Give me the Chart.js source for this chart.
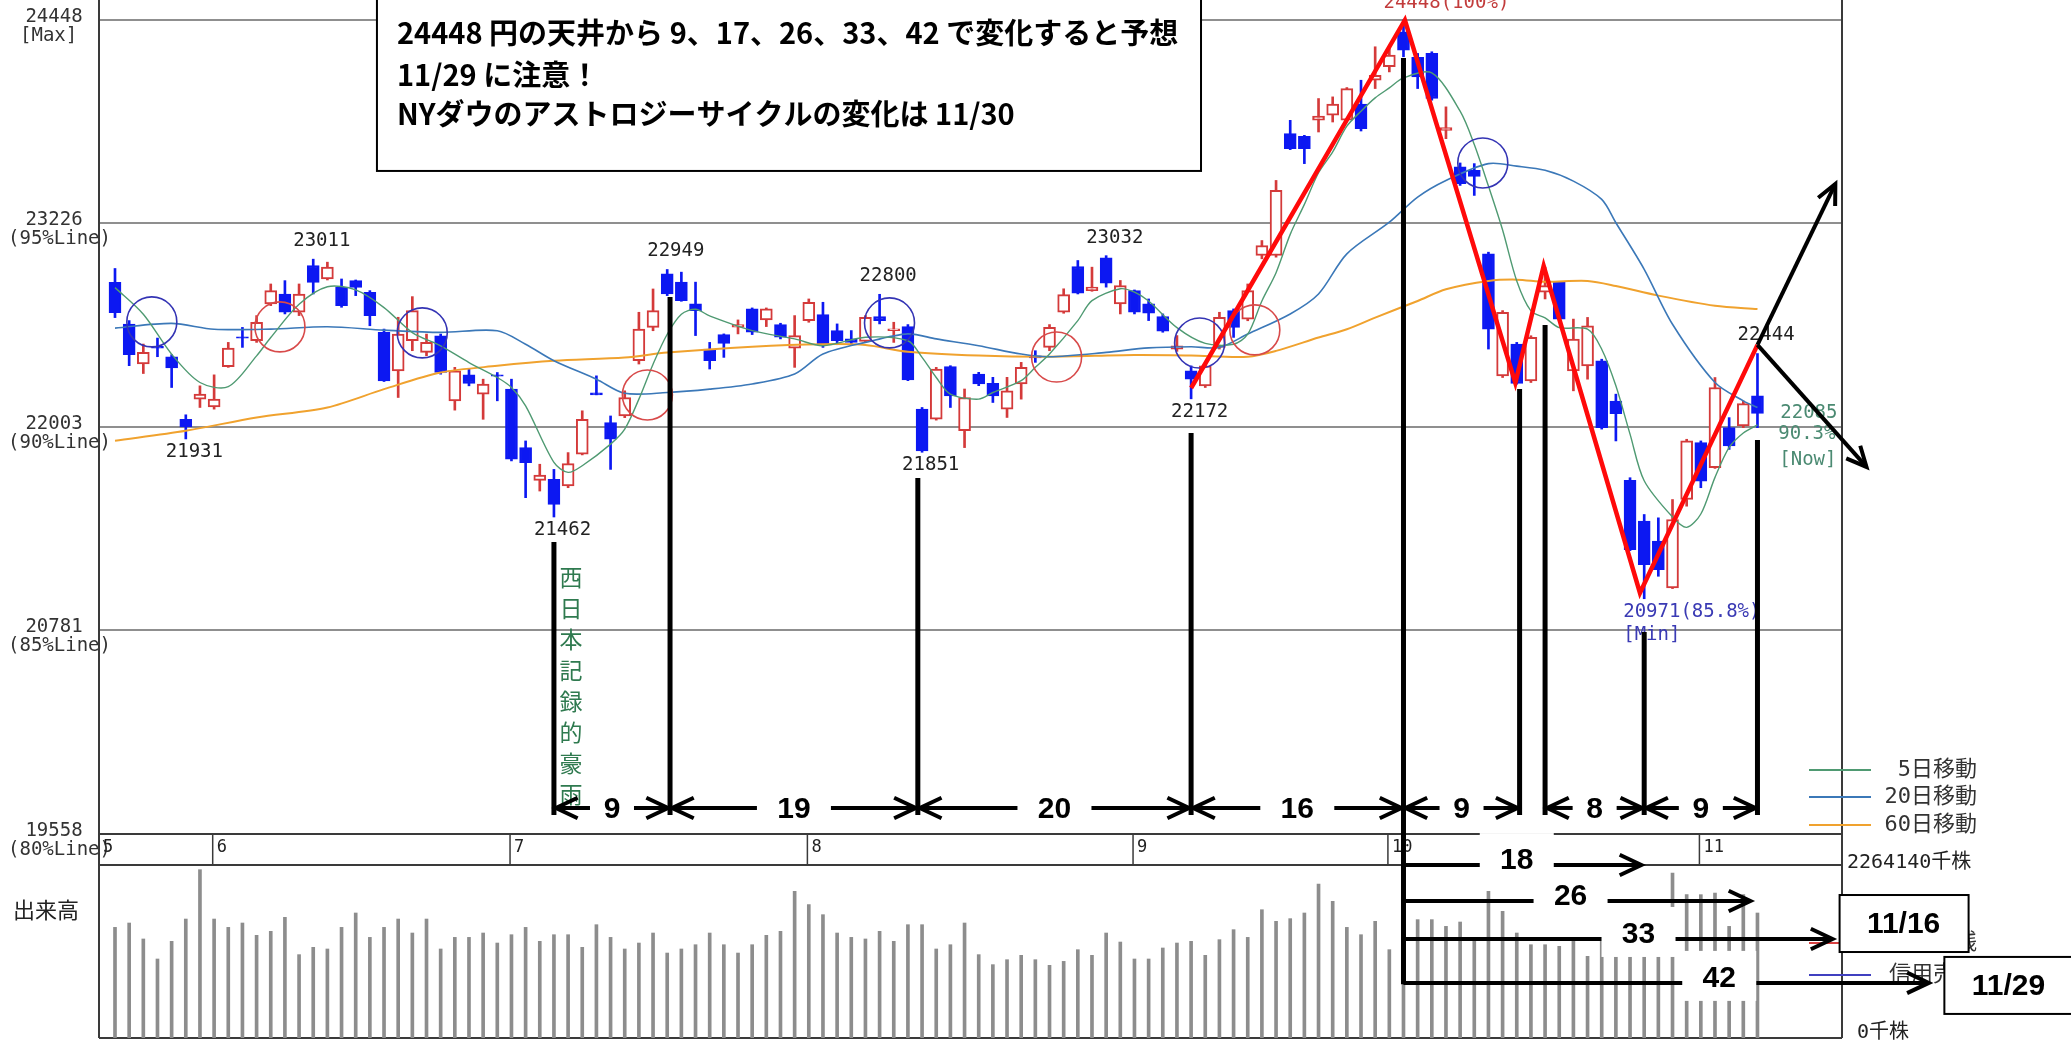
<!DOCTYPE html>
<html lang="ja">
<head>
<meta charset="utf-8">
<title>日経平均 日足チャート</title>
<script src="https://cdn.jsdelivr.net/npm/chart.js@4.4.1/dist/chart.umd.min.js"></script>
<style>
    html, body { margin: 0; padding: 0; background: #fff; overflow: hidden; }
    #wrap { position: relative; width: 2071px; height: 1049px; }
    canvas { display: block; }
</style>
</head>
<body>
<div id="wrap"><canvas id="chart" width="2071" height="1049"></canvas></div>
<script>
/* ================= DATA ================= */
// daily candles 2018/5/23 .. 2018/11/7 (index 0..116)
const opens = [
    22872,22621,22381,22487,22425,22049,22170,22124,22365,22545,
    22521,22742,22802,22692,22973,22892,22842,22882,22812,22571,
    22340,22521,22451,22551,22160,22316,22200,22316,22230,21879,
    21682,21688,21648,21839,22208,22029,22069,22401,22601,22923,
    22873,22742,22471,22558,22602,22712,22646,22618,22477,22642,
    22678,22582,22532,22517,22666,22582,22606,22110,22050,22365,
    21980,22321,22265,22110,22261,22431,22481,22692,22967,22822,
    23019,22742,22822,22742,22666,22471,22340,22250,22481,22702,
    22651,23033,23033,23765,23749,23846,23876,23846,23942,24086,
    24167,24377,24223,24247,23785,23565,23544,23043,22310,22501,
    22280,22812,22872,22340,22370,22400,22159,21682,21437,21317,
    21036,21567,21909,21758,21999,22009,22190
];
const highs = [
    22955,22642,22501,22537,22437,22076,22250,22316,22511,22601,
    22672,22862,22882,22862,23011,22993,22892,22886,22822,22591,
    22662,22786,22561,22561,22361,22351,22290,22330,22290,21919,
    21779,21748,21849,22100,22310,22069,22220,22692,22832,22949,
    22933,22873,22511,22562,22646,22718,22718,22626,22672,22772,
    22752,22622,22582,22672,22800,22632,22618,22120,22361,22371,
    22231,22331,22301,22301,22391,22461,22618,22833,23003,22963,
    23032,22883,22826,22772,22682,22552,22370,22380,22692,22712,
    22862,23123,23484,23845,23755,23976,23986,24042,24086,24287,
    24287,24448,24247,24257,23926,23589,23585,23053,22702,22511,
    22551,22963,22878,22651,22661,22410,22200,21698,21477,21457,
    21567,21929,21919,22300,22059,22159,22444
];
const lows = [
    22660,22371,22324,22425,22240,21931,22120,22110,22361,22481,
    22511,22732,22682,22672,22802,22886,22722,22792,22611,22276,
    22180,22461,22431,22320,22104,22250,22049,22160,21799,21578,
    21618,21462,21638,21835,22196,21748,22059,22381,22581,22792,
    22758,22552,22351,22421,22562,22558,22606,22532,22361,22632,
    22481,22497,22501,22511,22622,22511,22281,21851,22044,22120,
    21879,22251,22150,22060,22170,22391,22461,22686,22802,22818,
    22843,22682,22682,22642,22572,22457,22172,22240,22471,22541,
    22641,23013,23023,23669,23585,23775,23835,23842,23781,24036,
    24136,24227,24036,23966,23735,23454,23394,22471,22300,22260,
    22270,22772,22645,22220,22290,21990,21919,21260,20971,21106,
    21032,21527,21638,21754,21868,21999,21999
];
const closes = [
    22690,22437,22451,22477,22357,22003,22200,22170,22477,22537,
    22631,22822,22692,22802,22872,22963,22732,22842,22672,22280,
    22561,22702,22511,22330,22340,22264,22260,22308,21809,21789,
    21714,21538,21783,22049,22196,21929,22180,22591,22702,22802,
    22762,22702,22401,22505,22618,22572,22712,22542,22552,22752,
    22501,22521,22511,22662,22642,22592,22285,21859,22351,22190,
    22180,22261,22190,22220,22361,22417,22602,22798,22806,22843,
    22867,22853,22692,22686,22578,22491,22290,22370,22661,22601,
    22822,23093,23424,23675,23675,23870,23942,24036,23795,24116,
    24237,24267,24106,23976,23801,23464,23508,22591,22692,22264,
    22541,22852,22651,22531,22611,21999,22083,21266,21176,21146,
    21447,21919,21678,22240,21889,22143,22085
];
// 出来高 (千株)
const volumes = [
    1448000,1505000,1296000,1034000,1265000,1557000,2203000,1557000,1448000,1505000,
    1344000,1396000,1579000,1091000,1187000,1165000,1448000,1636000,1317000,1448000,
    1557000,1374000,1557000,1165000,1317000,1317000,1374000,1243000,1352000,1448000,
    1265000,1352000,1352000,1187000,1483000,1317000,1165000,1243000,1374000,1112000,
    1165000,1221000,1374000,1221000,1112000,1221000,1344000,1396000,1919000,1745000,
    1614000,1374000,1317000,1296000,1396000,1265000,1483000,1483000,1165000,1221000,
    1505000,1091000,960000,1025000,1082000,1025000,951000,1003000,1156000,1082000,
    1374000,1256000,1034000,1034000,1178000,1243000,1265000,1082000,1287000,1418000,
    1317000,1679000,1527000,1562000,1636000,2015000,1788000,1448000,1352000,1527000,
    1156000,1492000,1549000,1549000,1461000,1518000,1265000,1919000,1658000,1374000,
    1221000,1221000,1200000,1287000,1069000,1265000,1091000,1614000,1636000,1352000,
    2159000,1876000,1876000,1897000,1461000,1876000,1636000
];
const volumeTop = 2264140;

// month separators (first candle of each month)
const monthStart = [0, 7, 28, 49, 72, 90, 112];
const monthLabel = ["5", "6", "7", "8", "9", "10", "11"];

// price axis lines
const yTicks = [19558, 20781, 22003, 23226, 24448];
const yTickNotes = ["(80%Line)", "(85%Line)", "(90%Line)", "(95%Line)", "[Max]"];

// moving averages: [index, price]
const ma5 = [
    [0,22840],[2,22680],[4,22440],[6,22270],[8,22245],[10,22430],[11,22540],[13,22740],
    [15,22845],[17,22826],[19,22720],[21,22570],[23,22490],[25,22390],[27,22300],[28,22240],
    [29,22130],[31,21790],[32,21730],[33,21770],[35,21900],[36,21990],[37,22170],[38,22380],
    [39,22560],[40,22680],[41,22710],[42,22670],[45,22582],[48,22532],[50,22491],[53,22542],
    [56,22521],[57,22421],[58,22300],[59,22200],[61,22170],[62,22210],[64,22281],[65,22361],
    [66,22441],[68,22642],[69,22762],[71,22833],[72,22813],[73,22760],[75,22600],[77,22505],
    [79,22500],[80,22560],[81,22760],[82,22930],[83,23160],[84,23340],[85,23530],[86,23655],
    [87,23810],[88,23900],[89,23980],[90,24040],[91,24100],[93,24130],[95,23900],[96,23700],
    [97,23450],[98,23186],[99,22880],[100,22700],[101,22658],[102,22600],[104,22590],[105,22470],
    [106,22250],[107,21960],[108,21680],[110,21462],[111,21400],[112,21480],[113,21700],[114,21880],
    [115,21967],[116,22015]
];
const ma20 = [
    [0,22597],[4,22625],[7,22590],[11,22591],[15,22605],[19,22585],[23,22571],[27,22581],
    [29,22500],[31,22401],[34,22290],[36,22205],[39,22210],[42,22230],[45,22261],[48,22321],
    [50,22441],[53,22511],[56,22562],[58,22532],[61,22491],[64,22441],[66,22425],[70,22451],
    [73,22478],[76,22485],[78,22481],[80,22561],[83,22682],[85,22802],[87,23043],[90,23233],
    [92,23384],[94,23484],[97,23585],[99,23570],[101,23545],[103,23480],[105,23370],[106,23230],
    [108,22950],[110,22620],[113,22270],[115,22160],[116,22120]
];
const ma60 = [
    [0,21920],[5,21980],[10,22060],[15,22120],[19,22230],[23,22330],[27,22370],[31,22400],
    [36,22420],[39,22450],[45,22485],[50,22500],[53,22495],[56,22455],[61,22432],[66,22425],
    [72,22435],[76,22432],[80,22425],[82,22460],[85,22540],[87,22590],[89,22660],[92,22760],
    [94,22830],[97,22880],[99,22888],[101,22875],[104,22880],[106,22850],[109,22792],[113,22731],
    [116,22711]
];

// golden / dead cross circles
const crossIdx   = [2.6, 11.65, 21.7, 37.6, 54.7, 66.5, 76.6, 80.5, 96.6];
const crossPrice = [22634, 22604, 22568, 22195, 22628, 22423, 22507, 22586, 23589];
const crossGolden = [false, true, false, true, false, true, false, true, false];

// high / low labels
const markIdx   = [5, 14, 31, 39, 54, 57, 70, 76, 116];
const markPrice = [21931, 23011, 21462, 22949, 22800, 21851, 23032, 22172, 22444];
const markBelow = [true, false, true, false, false, true, false, true, false];

// red wave drawn over the candles
const waveIdx   = [76, 91.1, 98.9, 100.9, 107.7, 116];
const wavePrice = [22237, 24448, 22267, 22970, 21006, 22496];

// day-count annotations
const countIdx    = [31, 39.2, 56.7, 76, 91, 99.2, 101, 108, 116];
const countTop    = [21312, 22784, 21697, 21967, 24220, 22231, 22616, 20771, 21925];
const countBottom = [19672, 19672, 19672, 19672, 18655, 19672, 19672, 19672, 19672];
const spanFrom = [31, 39.2, 56.7, 76, 91, 101, 108];
const spanTo   = [39.2, 56.7, 76, 91, 99.2, 108, 116];
const spanDays = ["9", "19", "20", "16", "9", "8", "9"];
const spanLevel = 19714;

const fwdTo      = [107.8, 115.5, 121.3, 128.1];
const fwdLevel   = [19371, 19155, 18927, 18663];
const fwdTextIdx = [99, 102.8, 107.6, 113.3];
const fwdDays    = ["18", "26", "33", "42"];

const dateBoxText  = ["11/16", "11/29"];
const dateBoxIdx   = [121.8, 129.2];
const dateBoxLevel = [19191, 18819];

const outlookIdx   = [121.5, 123.7];
const outlookPrice = [23463, 21763];

const noteLines = [
    "24448 円の天井から 9、17、26、33、42 で変化すると予想",
    "11/29 に注意！",
    "NYダウのアストロジーサイクルの変化は 11/30"
];
const noteBox = { fromIdx: 18.5, toIdx: 76.7, bottom: 23541 };
const quakeText = "西日本記録的豪雨";

const legendText  = ["5日移動", "20日移動", "60日移動", "信用買残", "信用売残"];

/* ================= STYLE ================= */
const UP = "#d43a3a";
const DOWN = "#0c18f2";
const MA_COLORS = ["#4f9a72", "#3b78b8", "#f0a22e", "#d84040", "#4040c0"];
const MONO = '"DejaVu Sans Mono", "Noto Sans CJK JP", monospace';
const CJK = '"Noto Sans CJK JP", sans-serif';
const NUM = 'bold 30px "Liberation Sans", Arial, sans-serif';

/* ================= DATASETS ================= */
const idx = opens.map((_, i) => i);
const isUp = i => closes[i] >= opens[i];
const toXY = arr => arr.map(p => ({ x: p[0], y: p[1] }));

const datasets = [
    {
        type: "bar", data: volumes.map((v, i) => ({ x: i, y: v })), yAxisID: "yv",
        barThickness: 3, backgroundColor: "#8d8d8d", grouped: false, order: 9
    },
    {
        type: "bar", data: idx.map(i => ({ x: i, y: [lows[i], highs[i]] })), yAxisID: "y",
        barThickness: 2, backgroundColor: idx.map(i => isUp(i) ? UP : DOWN), grouped: false, order: 7
    },
    {
        type: "bar", data: idx.map(i => ({ x: i, y: [opens[i], closes[i]] })), yAxisID: "y",
        barThickness: 12, backgroundColor: idx.map(i => isUp(i) ? "#ffffff" : DOWN),
        borderColor: idx.map(i => isUp(i) ? UP : DOWN), borderWidth: 2, borderSkipped: false,
        grouped: false, order: 6
    },
    { type: "line", data: toXY(ma60), yAxisID: "y", borderColor: MA_COLORS[2], borderWidth: 2, pointRadius: 0, tension: 0.3, order: 5 },
    { type: "line", data: toXY(ma20), yAxisID: "y", borderColor: MA_COLORS[1], borderWidth: 1.6, pointRadius: 0, tension: 0.3, order: 4 },
    { type: "line", data: toXY(ma5), yAxisID: "y", borderColor: MA_COLORS[0], borderWidth: 1.4, pointRadius: 0, tension: 0.3, order: 3 },
    {
        type: "line", data: crossIdx.map((x, k) => ({ x: x, y: crossPrice[k] })), yAxisID: "y",
        showLine: false, pointRadius: 25, pointStyle: "circle", pointBackgroundColor: "rgba(0,0,0,0)",
        pointBorderColor: crossGolden.map(g => g ? "#d84a4a" : "#3434b4"), pointBorderWidth: 1.6, order: 2
    },
    {
        type: "line", data: waveIdx.map((x, k) => ({ x: x, y: wavePrice[k] })), yAxisID: "y",
        borderColor: "#ff0a0a", borderWidth: 4.5, pointRadius: 0, tension: 0, order: 1
    }
];

/* ================= DRAW HELPERS ================= */
function seg(ctx, x1, y1, x2, y2) {
    ctx.beginPath();
    ctx.moveTo(x1, y1);
    ctx.lineTo(x2, y2);
    ctx.stroke();
}

function head(ctx, x, y, dir, size) {
    const a = 2.7;
    ctx.beginPath();
    ctx.moveTo(x + Math.cos(dir + a) * size, y + Math.sin(dir + a) * size);
    ctx.lineTo(x, y);
    ctx.lineTo(x + Math.cos(dir - a) * size, y + Math.sin(dir - a) * size);
    ctx.stroke();
}

/* ================= PLUGIN ================= */
const notes = {
    id: "notes",

    beforeDatasetsDraw(c) {
        const { ctx, chartArea: a, scales } = c;
        const X = v => scales.x.getPixelForValue(v);
        const yTop = scales.y.getPixelForValue(19558);
        const yBot = scales.yv.getPixelForValue(volumeTop);

        ctx.save();
        ctx.strokeStyle = "#3a3a3a";
        ctx.lineWidth = 2;
        seg(ctx, a.left, 0, a.left, a.bottom);
        seg(ctx, a.right, 0, a.right, a.bottom);
        [yTop, yBot, a.bottom].forEach(y => seg(ctx, a.left, y, a.right, y));

        // price axis labels (from the axis ticks)
        ctx.font = "19px " + MONO;
        ctx.fillStyle = "#333";
        ctx.textBaseline = "middle";
        scales.y.ticks.forEach(t => {
            const y = scales.y.getPixelForValue(t.value);
            const note = yTickNotes[yTicks.indexOf(t.value)];
            ctx.textAlign = "center";
            ctx.fillText(String(t.value), a.left - 45, y - 3);
            ctx.textAlign = "left";
            ctx.fillText(note, a.left - (note[0] === "[" ? 79 : 91), y + 16);
        });

        // month strip
        ctx.lineWidth = 1.5;
        ctx.fillStyle = "#222";
        ctx.font = "17px " + MONO;
        ctx.textAlign = "left";
        monthStart.forEach((m, k) => {
            const x = k === 0 ? a.left : X(m - 0.1);
            seg(ctx, x, yTop, x, yBot);
            ctx.fillText(monthLabel[k], x + 4, yTop + 14);
        });

        // volume pane texts
        ctx.font = "22px " + CJK;
        ctx.fillText("出来高", a.left - 86, yBot + 45);
        ctx.font = "20px " + MONO;
        ctx.fillText(volumeTop + "千株", a.right + 5, yBot - 2);
        ctx.fillText("0千株", a.right + 15, a.bottom - 5);

        // legend
        const legY = [yTop - 64, yTop - 37, yTop - 9, yBot + 78, yBot + 110];
        ctx.font = "22px " + MONO;
        ctx.textAlign = "right";
        legendText.forEach((t, k) => {
            ctx.strokeStyle = MA_COLORS[k];
            ctx.lineWidth = 2;
            seg(ctx, a.right - 33, legY[k], a.right + 29, legY[k]);
            ctx.fillStyle = "#333";
            ctx.fillText(t, a.right + 135, legY[k]);
        });
        ctx.restore();
    },

    afterDatasetsDraw(c) {
        const { ctx, scales } = c;
        const X = v => scales.x.getPixelForValue(v);
        const Y = v => scales.y.getPixelForValue(v);

        ctx.save();
        ctx.textBaseline = "middle";

        // high / low labels
        ctx.font = "19px " + MONO;
        ctx.fillStyle = "#222";
        ctx.textAlign = "left";
        markIdx.forEach((i, k) => {
            const y = markBelow[k] ? Y(markPrice[k]) + 13 : Y(markPrice[k]) - 18;
            ctx.fillText(String(markPrice[k]), X(i) - 20, y);
        });
        ctx.fillStyle = "#c23c3c";
        ctx.fillText("24448(100%)", X(91) - 20, Y(24448) - 17);
        ctx.fillStyle = "#3a3ab4";
        ctx.fillText("20971(85.8%)", X(108) - 21, Y(20971) + 13);
        ctx.fillText("[Min]", X(108) - 21, Y(20971) + 36);
        ctx.fillStyle = "#4b8a72";
        ctx.textAlign = "right";
        const yNow = Y(closes[116]);
        ctx.fillText("22085", X(116) + 80, yNow);
        ctx.fillText("90.3%", X(116) + 78, yNow + 21);
        ctx.fillText("[Now]", X(116) + 79, yNow + 47);

        // vertical text
        ctx.fillStyle = "#2f7a4f";
        ctx.font = "23px " + CJK;
        ctx.textAlign = "center";
        [...quakeText].forEach((ch, k) => {
            ctx.fillText(ch, X(31) + 17, Y(countTop[0]) + 35 + k * 31);
        });

        // vertical count lines
        ctx.strokeStyle = "#000";
        ctx.fillStyle = "#000";
        ctx.lineWidth = 5;
        countIdx.forEach((i, k) => seg(ctx, X(i), Y(countTop[k]), X(i), Y(countBottom[k])));

        // day spans
        ctx.font = NUM;
        const ys = Y(spanLevel);
        spanFrom.forEach((f, k) => {
            const x1 = X(f), x2 = X(spanTo[k]), xm = (x1 + x2) / 2;
            const g = spanDays[k].length > 1 ? 37 : 22;
            ctx.lineWidth = 4;
            seg(ctx, x1, ys, xm - g, ys);
            seg(ctx, xm + g, ys, x2, ys);
            head(ctx, x1 + 2, ys, Math.PI, 24);
            head(ctx, x2 - 2, ys, 0, 24);
            ctx.fillText(spanDays[k], xm, ys + 2);
        });

        // counts forward from the top
        const x0 = X(91);
        fwdTo.forEach((t, k) => {
            const y = Y(fwdLevel[k]), x2 = X(t), xm = X(fwdTextIdx[k]);
            ctx.lineWidth = 4;
            seg(ctx, x0, y, x2, y);
            head(ctx, x2, y, 0, 24);
            ctx.fillStyle = "#fff";
            ctx.fillRect(xm - 37, y - 32, 74, 50);
            ctx.fillStyle = "#000";
            ctx.fillText(fwdDays[k], xm, y - 4);
        });

        // date boxes
        dateBoxText.forEach((t, k) => {
            const x = X(dateBoxIdx[k]), y = Y(dateBoxLevel[k]);
            ctx.fillStyle = "#fff";
            ctx.fillRect(x, y, 129, 57);
            ctx.lineWidth = 2;
            ctx.strokeRect(x, y, 129, 57);
            ctx.fillStyle = "#000";
            ctx.fillText(t, x + 64, y + 30);
        });

        // outlook arrows
        const xs = X(116), yf = Y(wavePrice[5]);
        ctx.lineWidth = 4;
        outlookIdx.forEach((i, k) => {
            const xe = X(i), ye = Y(outlookPrice[k]);
            seg(ctx, xs, yf, xe, ye);
            head(ctx, xe, ye, Math.atan2(ye - yf, xe - xs), 22);
        });

        // comment box
        const bx = X(noteBox.fromIdx), bw = X(noteBox.toIdx) - bx, bb = Y(noteBox.bottom);
        ctx.fillStyle = "#fff";
        ctx.fillRect(bx, -2, bw, bb + 2);
        ctx.lineWidth = 2;
        ctx.strokeRect(bx, -2, bw, bb + 2);
        ctx.fillStyle = "#000";
        ctx.textAlign = "left";
        ctx.font = "bold 29px " + CJK;
        [33, 75, 114].forEach((dy, k) => ctx.fillText(noteLines[k], bx + 20, dy));

        ctx.restore();
    }
};

/* ================= CHART ================= */
new Chart(document.getElementById("chart"), {
    type: "bar",
    data: { datasets: datasets },
    plugins: [notes],
    options: {
        responsive: false,
        animation: false,
        events: [],
        layout: { autoPadding: false, padding: { left: 0, right: 229, top: 0, bottom: 11 } },
        plugins: { legend: { display: false }, tooltip: { enabled: false } },
        scales: {
            x: { type: "linear", min: -1.13, max: 121.97, display: false, offset: false },
            y: {
                position: "left",
                min: 18332,
                max: 24568,
                afterBuildTicks: s => { s.ticks = yTicks.map(v => ({ value: v })); },
                afterFit: s => { s.width = 99; },
                border: { display: false },
                grid: {
                    drawTicks: false,
                    lineWidth: 2,
                    color: g => (g.tick && g.tick.value === 19558) ? "rgba(0,0,0,0)" : "#8f8f8f"
                },
                ticks: { display: false }
            },
            yv: { display: false, min: 0, max: 13584840 }
        }
    }
});
</script>
</body>
</html>
